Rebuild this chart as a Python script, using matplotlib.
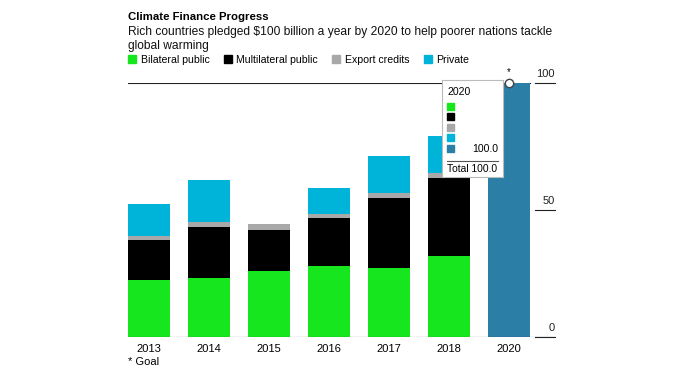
import matplotlib.pyplot as plt
from matplotlib.patches import Patch, Rectangle
import numpy as np

plt.rcParams['font.family'] = ['Liberation Sans', 'DejaVu Sans']

# Данные (млрд долл.)
years = ['2013', '2014', '2015', '2016', '2017', '2018', '2020']
bilateral = [22.5, 23.1, 25.9, 28.0, 27.0, 32.0, 0]
multilateral = [15.5, 20.4, 16.2, 18.9, 27.6, 30.5, 0]
export_credits = [1.6, 1.6, 2.5, 1.5, 2.1, 2.1, 0]
private = [12.8, 16.7, 0, 10.1, 14.5, 14.6, 0]
goal = [0, 0, 0, 0, 0, 0, 100.0]

series = [
    ('Bilateral public', bilateral, '#16e61e'),
    ('Multilateral public', multilateral, '#000000'),
    ('Export credits', export_credits, '#a8a8a8'),
    ('Private', private, '#00b3d8'),
]
goal_color = '#2b7ea6'
y_ticks = [0, 50, 100]

W, H = 680, 374
fig = plt.figure(figsize=(W / 100, H / 100), dpi=100)
ax = fig.add_axes([128 / W, 1 - 337 / H, (555 - 128) / W, (337 - 83) / H])

x = np.arange(len(years))
bottom = np.zeros(len(years))
for name, vals, col in series:
    ax.bar(x, vals, width=0.7, bottom=bottom, color=col, zorder=2)
    bottom += np.array(vals)
ax.bar(x, goal, width=0.7, bottom=bottom, color=goal_color, zorder=2)

ax.set_xlim(-0.35, 6.77)
ax.set_ylim(0, 100)
for s in ax.spines.values():
    s.set_visible(False)
ax.set_yticks([])
ax.set_xticks(x)
ax.set_xticklabels(years, fontsize=8)
ax.tick_params(axis='x', length=0, pad=5)

# линии: базовая и цель
ax.axhline(0, color='#222222', lw=0.8, zorder=3)
ax.axhline(100, xmax=(6.35 + 0.35) / 7.12, color='#222222', lw=0.8, zorder=1)
for t in y_ticks:
    ax.plot([6.43, 6.77], [t, t], color='#222222', lw=0.8, clip_on=False, zorder=3)
    ax.text(6.77, t + 2.5, str(t), ha='right', va='baseline', fontsize=8, color='#222222')

# маркер цели
ax.plot([6], [100], marker='o', ms=6, mfc='white', mec='#444444', mew=1,
        zorder=5, clip_on=False)
ax.text(6, 102.5, '*', ha='center', va='bottom', fontsize=7)

# заголовки
fig.text(128 / W, 1 - 17 / H, 'Climate Finance Progress', fontsize=8.2,
         fontweight='bold', va='center', ha='left')
fig.text(128 / W, 1 - 39 / H,
         'Rich countries pledged $100 billion a year by 2020 to help poorer nations tackle\nglobal warming',
         fontsize=8.65, va='center', ha='left', linespacing=1.12, color='#111111')
fig.text(128 / W, 1 - 362 / H, '* Goal', fontsize=8, va='center', ha='left')

handles = [Patch(color=c, label=n) for n, _, c in series]
fig.legend(handles=handles, loc='center left', bbox_to_anchor=(128 / W, 1 - 60 / H),
           ncol=4, frameon=False, fontsize=7.6, handlelength=0.75, handleheight=0.75,
           handletextpad=0.45, columnspacing=1.35, borderpad=0, borderaxespad=0)

# всплывающая подсказка 2020
tip = fig.add_axes([442 / W, 1 - 177 / H, (503 - 442) / W, (177 - 80) / H])
tip.set_xlim(0, 61)
tip.set_ylim(97, 0)
tip.set_xticks([])
tip.set_yticks([])
for s in tip.spines.values():
    s.set_color('#bbbbbb')
    s.set_linewidth(0.8)
tip.text(5, 12, '2020', fontsize=7.6, va='center', ha='left')
tip_colors = [c for _, _, c in series] + [goal_color]
for i, c in enumerate(tip_colors):
    tip.add_patch(Rectangle((5, 22.5 + i * 10.6), 7, 7, color=c))
tip.text(56, 69.5, '%.1f' % goal[-1], fontsize=7.6, va='center', ha='right')
tip.plot([5, 56], [81, 81], color='#555555', lw=0.8)
tip.text(5, 89, 'Total %.1f' % goal[-1], fontsize=7.4, va='center', ha='left')

fig.savefig('out.png', dpi=100)
